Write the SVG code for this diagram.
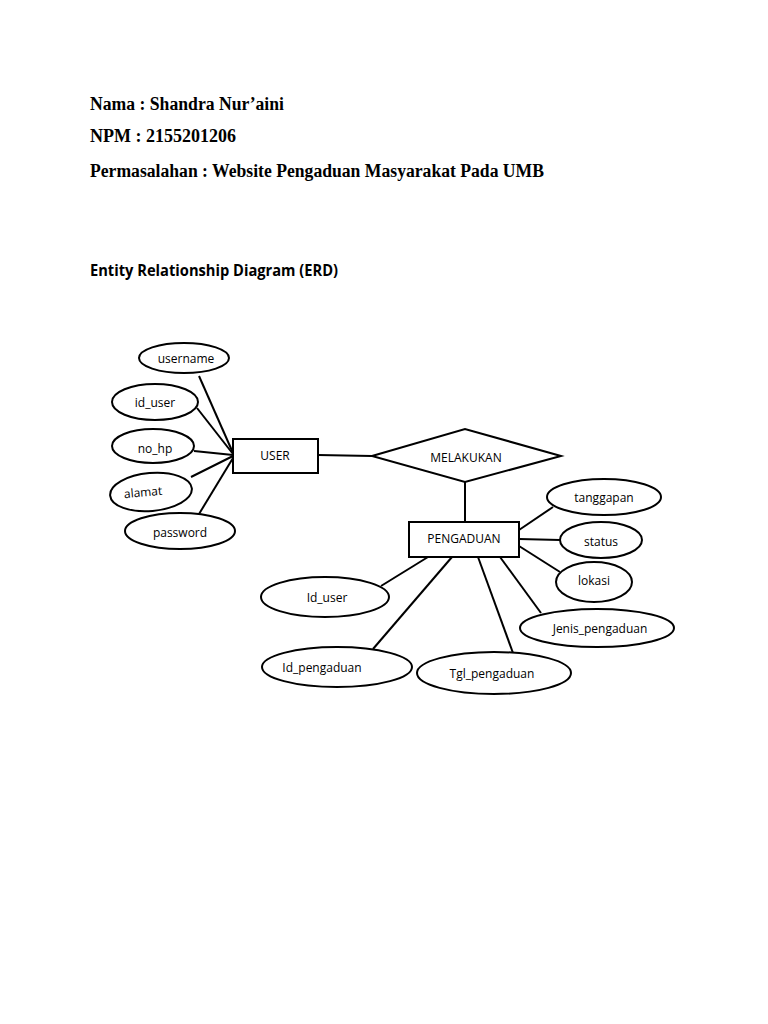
<svg xmlns="http://www.w3.org/2000/svg" width="768" height="1024" viewBox="0 0 768 1024">
<style>
.hdr{font-family:"Liberation Serif",serif;font-weight:bold;font-size:18px;fill:#000}
.ttl{font-family:"Open Sans","Liberation Sans",sans-serif;font-weight:bold;font-size:16px;fill:#000}
.shape{fill:#fff;stroke:#000;stroke-width:2}
.lbl{font-family:"Open Sans","Liberation Sans",sans-serif;font-size:12px;fill:#000;text-anchor:middle;dominant-baseline:central}
.conn line{stroke:#000;stroke-width:2}
</style>
<rect width="768" height="1024" fill="#fff"/>
<text class="hdr" x="90" y="110" textLength="194" lengthAdjust="spacingAndGlyphs">Nama : Shandra Nur’aini</text>
<text class="hdr" x="90" y="142">NPM : 2155201206</text>
<text class="hdr" x="90" y="177" textLength="454" lengthAdjust="spacingAndGlyphs">Permasalahan : Website Pengaduan Masyarakat Pada UMB</text>
<text class="ttl" x="90" y="276" textLength="248" lengthAdjust="spacingAndGlyphs">Entity Relationship Diagram (ERD)</text>

<g class="conn" id="connectors">
<line x1="199" y1="376" x2="233" y2="453"/>
<line x1="197" y1="408" x2="233" y2="454"/>
<line x1="194" y1="451" x2="233" y2="455"/>
<line x1="191" y1="477" x2="233" y2="456"/>
<line x1="199" y1="514" x2="233" y2="458"/>
<line x1="318" y1="455" x2="372" y2="456"/>
<line x1="465" y1="482" x2="465" y2="522"/>
<line x1="519" y1="530" x2="553" y2="507"/>
<line x1="519" y1="539" x2="560" y2="540"/>
<line x1="519" y1="546" x2="560" y2="572"/>
<line x1="500" y1="557" x2="541" y2="613"/>
<line x1="478" y1="557" x2="513" y2="653"/>
<line x1="452" y1="557" x2="373" y2="649"/>
<line x1="428" y1="557" x2="381" y2="586"/>
</g>

<g id="username"><ellipse class="shape" cx="184" cy="358" rx="45" ry="15"/><text class="lbl" x="186" y="358">username</text></g>
<g id="id_user"><ellipse class="shape" cx="155" cy="402" rx="43" ry="18"/><text class="lbl" x="155" y="402">id_user</text></g>
<g id="no_hp"><ellipse class="shape" cx="153" cy="446" rx="41" ry="17"/><text class="lbl" x="155" y="448">no_hp</text></g>
<g id="alamat"><ellipse class="shape" cx="151" cy="492" rx="41" ry="19" transform="rotate(-5 151 492)"/><text class="lbl" x="143" y="492" transform="rotate(-5 143 492)">alamat</text></g>
<g id="password"><ellipse class="shape" cx="180" cy="531" rx="55" ry="18"/><text class="lbl" x="180" y="532">password</text></g>

<g id="user"><rect class="shape" x="233" y="439" width="85" height="34"/><text class="lbl" x="275" y="455">USER</text></g>
<g id="melakukan"><polygon class="shape" points="372,456 465,429 561,456 465,482"/><text class="lbl" x="466" y="457">MELAKUKAN</text></g>
<g id="pengaduan"><rect class="shape" x="409" y="522" width="110" height="35"/><text class="lbl" x="464" y="538">PENGADUAN</text></g>

<g id="tanggapan"><ellipse class="shape" cx="604" cy="497" rx="57" ry="18"/><text class="lbl" x="604" y="497">tanggapan</text></g>
<g id="status"><ellipse class="shape" cx="601" cy="540" rx="41" ry="18"/><text class="lbl" x="601" y="541">status</text></g>
<g id="lokasi"><ellipse class="shape" cx="594" cy="582" rx="38" ry="20"/><text class="lbl" x="594" y="580">lokasi</text></g>
<g id="jenis_pengaduan"><ellipse class="shape" cx="597" cy="628" rx="77" ry="19"/><text class="lbl" x="600" y="628">Jenis_pengaduan</text></g>
<g id="tgl_pengaduan"><ellipse class="shape" cx="494" cy="673" rx="77" ry="21"/><text class="lbl" x="492" y="673">Tgl_pengaduan</text></g>
<g id="id_pengaduan"><ellipse class="shape" cx="337" cy="667" rx="75" ry="20"/><text class="lbl" x="322" y="667">Id_pengaduan</text></g>
<g id="id_user2"><ellipse class="shape" cx="325" cy="597" rx="64" ry="20"/><text class="lbl" x="327" y="597">Id_user</text></g>
</svg>
